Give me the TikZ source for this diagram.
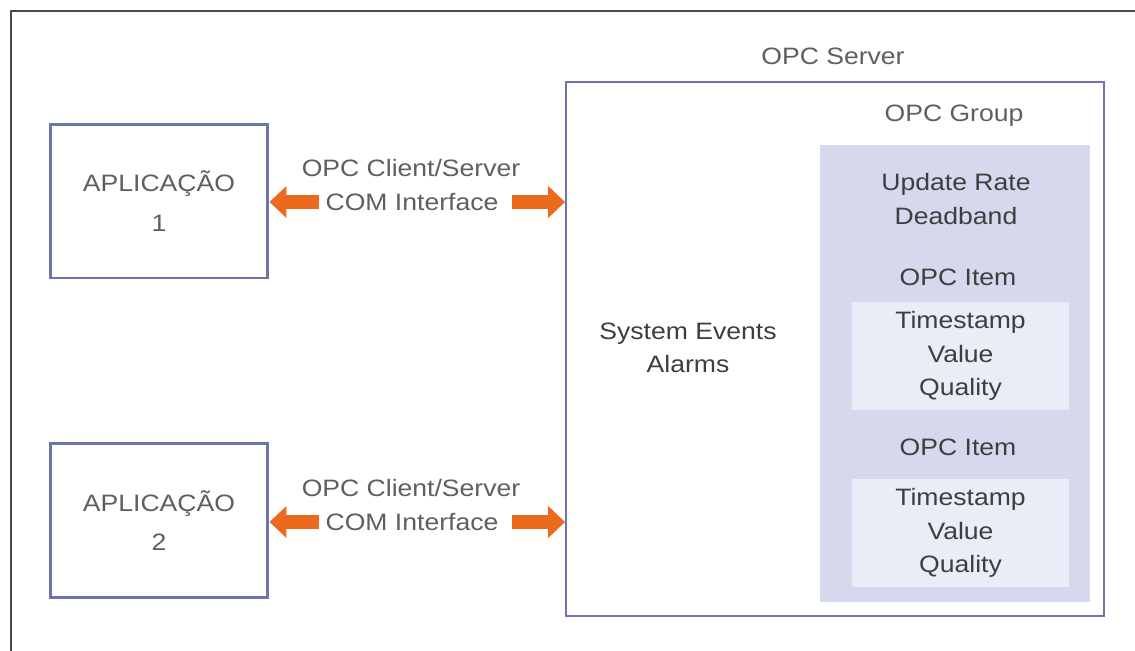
\documentclass[tikz,border=0pt]{standalone}
\usepackage{fontspec}
\setmainfont{Liberation Sans}[FakeStretch=1.12]
\usetikzlibrary{arrows.meta}
\definecolor{framegray}{RGB}{62,80,82}
\definecolor{boxline}{RGB}{112,116,172}
\definecolor{groupfill}{RGB}{214,217,238}
\definecolor{itemfill}{RGB}{234,236,247}
\definecolor{arroworange}{RGB}{236,106,30}
\definecolor{textgray}{RGB}{62,62,62}
\definecolor{labelgray}{RGB}{95,95,95}

\begin{document}
\begin{tikzpicture}[x=0.02cm, y=-0.02cm,
  every node/.style={font=\fontsize{13.5}{19}\selectfont, text=textgray, align=center},
  appbox/.style={draw=boxline, line width=1.7pt, minimum width=4.36cm, minimum height=3.08cm,
    font=\fontsize{13.5}{22.5}\selectfont, text=labelgray},
  serverbox/.style={draw=boxline, line width=1.1pt, minimum width=10.76cm, minimum height=10.68cm},
  groupbox/.style={fill=groupfill, minimum width=5.4cm, minimum height=9.14cm},
  itembox/.style={fill=itemfill, minimum width=4.34cm, minimum height=2.16cm},
  caption/.style={text=labelgray},
  blockarrow/.style={draw=arroworange, line width=0.28cm, -{Triangle[length=0.34cm, width=0.62cm]}}]

% Background
\useasboundingbox (0,0) rectangle (1135,650);
\fill[white] (0,0) rectangle (1135,650);

% Outer Frame
\draw[framegray, line width=1pt] (11,660) -- (11,11) -- (1145,11);

% Applications
\node[appbox] (app1) at (159,201) {APLICAÇÃO\\1};
\node[appbox] (app2) at (159,520.5) {APLICAÇÃO\\2};

% OPC Server
\node[serverbox] (srv) at (835,349) {};
\node[caption] (srvlbl) at (833,56) {OPC Server};
\node (events) at (688,348) {System Events\\Alarms};

% OPC Group
\node[groupbox] (grp) at (955,373.5) {};
\node[caption] (grplbl) at (954,116) {OPC Group};
\node (rate) at (956,199) {Update Rate\\Deadband};

% OPC Items
\node (itemlblA) at (958,277) {OPC Item};
\node[itembox] (item1) at (960.5,356) {Timestamp\\Value\\Quality};
\node (itemlblB) at (958,447) {OPC Item};
\node[itembox] (item2) at (960.5,533) {Timestamp\\Value\\Quality};

% Interfaces
\node[caption] (ifaceA) at (411,168) {OPC Client/Server};
\node[caption] (comA) at (412,202) {COM Interface};
\node[caption] (ifaceB) at (411,488) {OPC Client/Server};
\node[caption] (comB) at (412,522) {COM Interface};

% Arrows
\draw[blockarrow] (comA.west) -- (app1.east |- comA);
\draw[blockarrow] ([xshift=4pt]comA.east) -- (srv.west |- comA);
\draw[blockarrow] (comB.west) -- (app2.east |- comB);
\draw[blockarrow] ([xshift=4pt]comB.east) -- (srv.west |- comB);
\end{tikzpicture}
\end{document}
